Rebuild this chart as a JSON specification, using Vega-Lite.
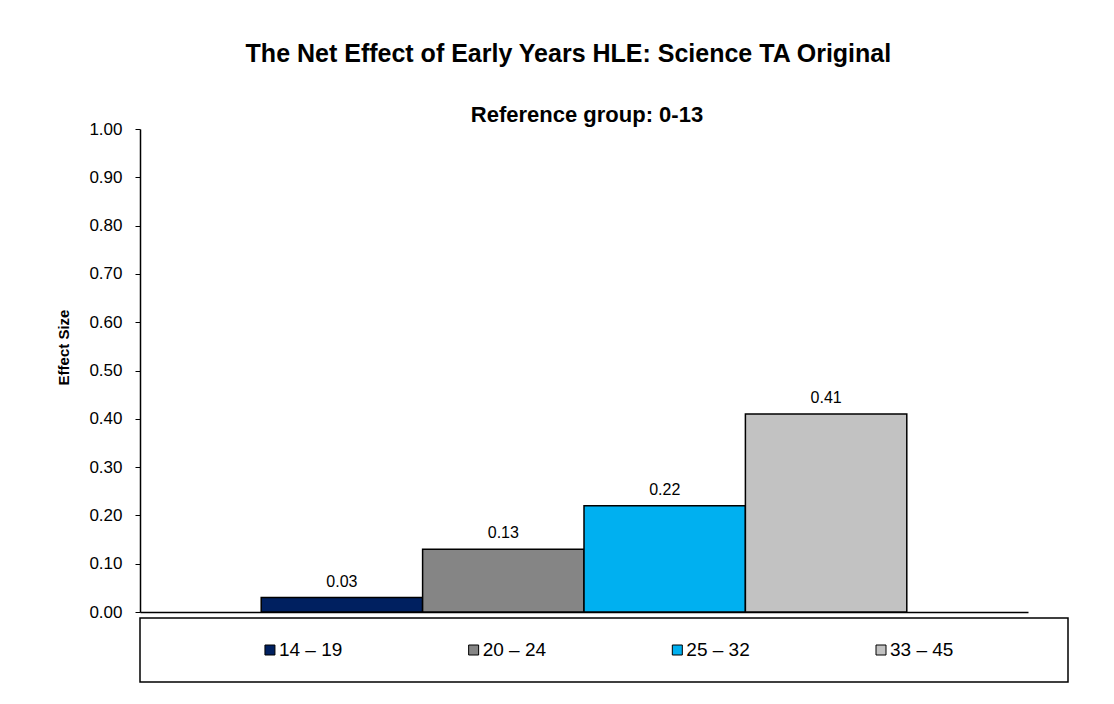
{
  "$schema": "https://vega.github.io/schema/vega-lite/v6.json",
  "padding": {"left": 56, "top": 42, "right": 46, "bottom": 5},
  "background": "white",
  "title": {
    "text": "The Net Effect of Early Years HLE: Science TA Original",
    "font": "Liberation Sans",
    "fontSize": 25,
    "fontWeight": "bold",
    "color": "black",
    "anchor": "middle",
    "dx": 6,
    "offset": 37
  },
  "datasets": {
    "bars": [
      {"group": "14 – 19", "effect": 0.03},
      {"group": "20 – 24", "effect": 0.13},
      {"group": "25 – 32", "effect": 0.22},
      {"group": "33 – 45", "effect": 0.41}
    ]
  },
  "bounds": "flush",
  "spacing": 6,
  "vconcat": [
    {
      "width": 888,
      "height": 483,
      "title": {
        "text": "Reference group: 0-13",
        "font": "Liberation Sans",
        "fontSize": 22,
        "fontWeight": "bold",
        "color": "black",
        "anchor": "middle",
        "dx": 3,
        "offset": -7
      },
      "data": {"name": "bars"},
      "encoding": {
        "x": {
          "field": "group",
          "type": "nominal",
          "sort": null,
          "scale": {"paddingInner": 0, "paddingOuter": 0.751},
          "axis": {"labels": false, "ticks": false, "title": null, "domainColor": "black", "domainWidth": 1.5}
        },
        "y": {
          "field": "effect",
          "type": "quantitative",
          "scale": {"domain": [0, 1]},
          "axis": {
            "values": [0, 0.1, 0.2, 0.3, 0.4, 0.5, 0.6, 0.7, 0.8, 0.9, 1.0],
            "format": ".2f",
            "grid": false,
            "labelFontSize": 17,
            "labelColor": "black",
            "labelPadding": 13,
            "tickSize": 5,
            "tickColor": "black",
            "domainColor": "black",
            "domainWidth": 1.5,
            "title": "Effect Size",
            "titleFontSize": 15,
            "titleFontWeight": "bold",
            "titleColor": "black",
            "titleX": -69,
            "titleY": 218
          }
        }
      },
      "layer": [
        {
          "mark": {"type": "bar", "stroke": "black", "strokeWidth": 1.5},
          "encoding": {
            "color": {
              "field": "group",
              "type": "nominal",
              "scale": {
                "domain": ["14 – 19", "20 – 24", "25 – 32", "33 – 45"],
                "range": ["#002060", "#858585", "#00B0F0", "#c2c2c2"]
              },
              "legend": null
            }
          }
        },
        {
          "mark": {"type": "text", "dy": -11, "baseline": "alphabetic", "fontSize": 16, "color": "black"},
          "encoding": {"text": {"field": "effect", "type": "quantitative", "format": ".2f"}}
        }
      ]
    },
    {
      "width": 928,
      "height": 64,
      "view": {"stroke": "black", "strokeWidth": 1.5},
      "data": {"name": "bars"},
      "encoding": {
        "x": {
          "field": "group",
          "type": "nominal",
          "sort": null,
          "scale": {"type": "point", "padding": 0.778, "align": 0.41},
          "axis": null
        }
      },
      "layer": [
        {
          "mark": {"type": "square", "size": 100, "filled": true, "opacity": 1, "stroke": "black", "strokeWidth": 1},
          "encoding": {
            "color": {"field": "group", "type": "nominal", "legend": null}
          }
        },
        {
          "mark": {"type": "text", "align": "left", "baseline": "middle", "dx": 9, "fontSize": 19, "color": "black"},
          "encoding": {"text": {"field": "group", "type": "nominal"}}
        }
      ]
    }
  ],
  "config": {
    "font": "Liberation Sans",
    "view": {"stroke": null}
  }
}
